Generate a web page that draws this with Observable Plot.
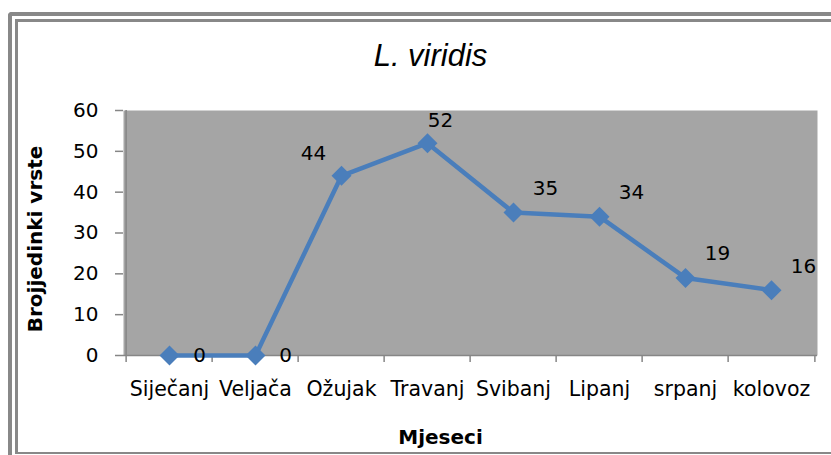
<!DOCTYPE html>
<html>
<head>
<meta charset="utf-8">
<script src="https://cdn.jsdelivr.net/npm/d3@7"></script>
<script src="https://cdn.jsdelivr.net/npm/@observablehq/plot@0.6"></script>
<style>
  html, body { margin: 0; padding: 0; background: #fff; overflow: hidden; }
  #wrap { position: relative; width: 831px; height: 455px; overflow: hidden; }
  #wrap svg { position: absolute; left: 0; top: 0; }
  .deco { position: absolute; pointer-events: none; box-sizing: content-box; }
  #outer { left: 8px; top: 12px; width: 900px; height: 500px; border-left: 4px solid #888; border-top: 4px solid #888; border-top-left-radius: 4px; }
  #inner { left: 15px; top: 19px; width: 900px; height: 430px; border-left: 3px solid #888; border-top: 3px solid #888; border-bottom: 2px solid #888; }
</style>
</head>
<body>
<div id="wrap"></div>
<script>
const months = ["Siječanj", "Veljača", "Ožujak", "Travanj", "Svibanj", "Lipanj", "srpanj", "kolovoz"];
const counts = [0, 0, 44, 52, 35, 34, 19, 16];
const yTicks = [0, 10, 20, 30, 40, 50, 60];
const title = "L. viridis";
const xLabel = "Mjeseci";
const yLabel = "Brojjedinki vrste";

const data = months.map((m, i) => ({month: m, count: counts[i], i}));

const W = 831, H = 455, mL = 123, mR = 14, mT = 110, mB = 100;
const step = (W - mL - mR) / months.length;
const gray = "#868686";
const blue = "#4a7ebb";

const chart = Plot.plot({
  width: W,
  height: H,
  marginLeft: mL,
  marginRight: mR,
  marginTop: mT,
  marginBottom: mB,
  style: {background: "transparent", fontFamily: "DejaVu Sans", fontSize: "20px", color: "#000"},
  x: {type: "point", domain: months, padding: 0.5, axis: null},
  y: {domain: [0, 60], axis: null},
  marks: [
    Plot.frame({fill: "#a5a5a5", stroke: null}),
    Plot.ruleY([0], {stroke: gray, strokeWidth: 1.5}),
    Plot.ruleX([months[0]], {dx: -step / 2, stroke: gray, strokeWidth: 1.5}),
    Plot.axisY({ticks: yTicks, tickSize: 8, tickPadding: 17, stroke: gray, strokeWidth: 1.5, label: null, fontSize: 20}),
    Plot.axisX(months, {tickSize: 7, tickFormat: () => "", dx: -step / 2, stroke: gray, strokeWidth: 1.5, label: null}),
    Plot.axisX([months[months.length - 1]], {tickSize: 7, tickFormat: () => "", dx: step / 2, stroke: gray, strokeWidth: 1.5, label: null}),
    Plot.axisX(months, {tickSize: 0, tickPadding: 26, label: null, fontSize: 20.5}),
    Plot.line(data, {x: "month", y: "count", stroke: blue, strokeWidth: 4.5}),
    Plot.dot(data, {x: "month", y: "count", symbol: "diamond2", r: 9, fill: blue, stroke: null}),
    Plot.text(data.filter(d => d.count === 0), {x: "month", y: "count", text: d => String(d.count), dx: 30, dy: 0, fontSize: 20}),
    Plot.text(data.filter(d => d.i === 2), {x: "month", y: "count", text: d => String(d.count), dx: -28, dy: -22, fontSize: 20}),
    Plot.text(data.filter(d => d.i === 3), {x: "month", y: "count", text: d => String(d.count), dx: 13, dy: -23, fontSize: 20}),
    Plot.text(data.filter(d => d.i >= 4), {x: "month", y: "count", text: d => String(d.count), dx: 32, dy: -24, fontSize: 20}),
    Plot.text([title], {frameAnchor: "top", textAnchor: "middle", dx: -40, dy: -45, lineAnchor: "bottom", fontSize: 31, fontStyle: "italic", fontFamily: "Liberation Sans"}),
    Plot.text([xLabel], {frameAnchor: "bottom", textAnchor: "middle", dx: -30, dy: 88, lineAnchor: "bottom", fontSize: 20, fontWeight: "bold"}),
    Plot.text([yLabel], {frameAnchor: "left", textAnchor: "middle", dx: -88, dy: 6, rotate: -90, lineAnchor: "middle", fontSize: 20, fontWeight: "bold"})
  ]
});

const wrap = document.getElementById("wrap");
wrap.appendChild(chart);
const o = document.createElement("div"); o.id = "outer"; o.className = "deco"; wrap.appendChild(o);
const n = document.createElement("div"); n.id = "inner"; n.className = "deco"; wrap.appendChild(n);
</script>
</body>
</html>
